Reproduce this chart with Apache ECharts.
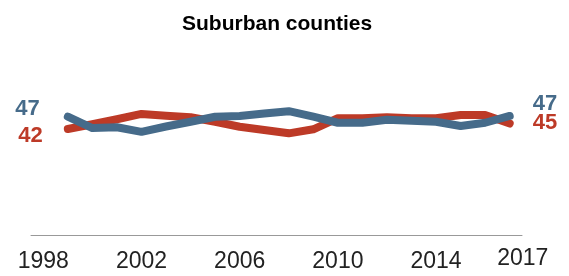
<!DOCTYPE html>
<html>
<head>
<meta charset="utf-8">
<script src="https://cdn.jsdelivr.net/npm/echarts@6/dist/echarts.min.js"></script>
<style>
  html, body { margin: 0; padding: 0; background: #fff; }
  #chart { width: 569px; height: 276px; }
</style>
</head>
<body>
<div id="chart"></div>
<script>
// years and share for each line
const years = [1999, 2000, 2001, 2002, 2003, 2004, 2005, 2006, 2007, 2008,
  2009, 2010, 2011, 2012, 2013, 2014, 2015, 2016, 2017];
const blueVals = [47.0, 42.5, 42.8, 41.0, 43.1, 45.0, 47.0, 47.3, 48.3, 49.2,
  47.0, 44.6, 44.6, 45.8, 45.4, 45.0, 43.3, 44.6, 47.3];
const redVals = [42.1, 44.0, 46.0, 48.1, 47.4, 46.8, 45.0, 43.0, 41.7, 40.4,
  42.0, 46.4, 46.4, 46.8, 46.4, 46.4, 47.7, 47.7, 44.3];
const tickYears = [1998, 2002, 2006, 2010, 2014, 2017];
const blueLabels = ["47", "47"]; // start, end
const redLabels = ["42", "45"];

const BLUE = "#466b8a";
const RED = "#bd3a27";

// 首尾两个点带数字标签
function build(vals, labels, color, startOpt, endOpt) {
  return years.map((y, i) => {
    const item = { value: [y, vals[i]] };
    if (i === 0) item.label = Object.assign({ show: true, formatter: labels[0], color: color }, startOpt);
    if (i === years.length - 1) item.label = Object.assign({ show: true, formatter: labels[1], color: color }, endOpt);
    return item;
  });
}

const chart = echarts.init(document.getElementById("chart"));
chart.setOption({
  animation: false,
  title: {
    text: "Suburban counties",
    left: 177,
    top: 9,
    textStyle: { fontFamily: "Liberation Sans", fontSize: 21, fontWeight: "bold", color: "#000" }
  },
  grid: { left: 31, right: 47, top: 84, bottom: 41 },
  xAxis: {
    type: "value",
    min: 1997.5,
    max: 2017.5,
    axisLine: { show: true, lineStyle: { color: "#999", width: 1 } },
    axisTick: { show: false },
    splitLine: { show: false },
    axisLabel: {
      customValues: tickYears,
      margin: 15,
      fontFamily: "Liberation Sans",
      fontSize: 23,
      lineHeight: 23,
      color: "#222",
      formatter: function (v) {
        return v === 2017 ? "{last|2017}" : String(v);
      },
      rich: {
        last: { padding: [0, 0, 0, 26], lineHeight: 17, fontSize: 23, fontFamily: "Liberation Sans", color: "#222" }
      }
    }
  },
  yAxis: {
    type: "value",
    min: 0,
    max: 60,
    show: false
  },
  series: [
    {
      type: "line",
      data: build(redVals, redLabels, RED,
        { position: "left", distance: 25, offset: [0, 7] },
        { position: "right", distance: 23, offset: [0, -1] }),
      symbol: "circle",
      symbolSize: 0,
      showSymbol: true,
      lineStyle: { color: RED, width: 8, cap: "round", join: "round" },
      itemStyle: { color: RED },
      label: { fontFamily: "Liberation Sans", fontSize: 22, fontWeight: "bold" },
      z: 2
    },
    {
      type: "line",
      data: build(blueVals, blueLabels, BLUE,
        { position: "left", distance: 28, offset: [0, -8] },
        { position: "right", distance: 23, offset: [0, -12] }),
      symbol: "circle",
      symbolSize: 0,
      showSymbol: true,
      lineStyle: { color: BLUE, width: 8, cap: "round", join: "round" },
      itemStyle: { color: BLUE },
      label: { fontFamily: "Liberation Sans", fontSize: 22, fontWeight: "bold" },
      z: 3
    }
  ]
});
</script>
</body>
</html>
